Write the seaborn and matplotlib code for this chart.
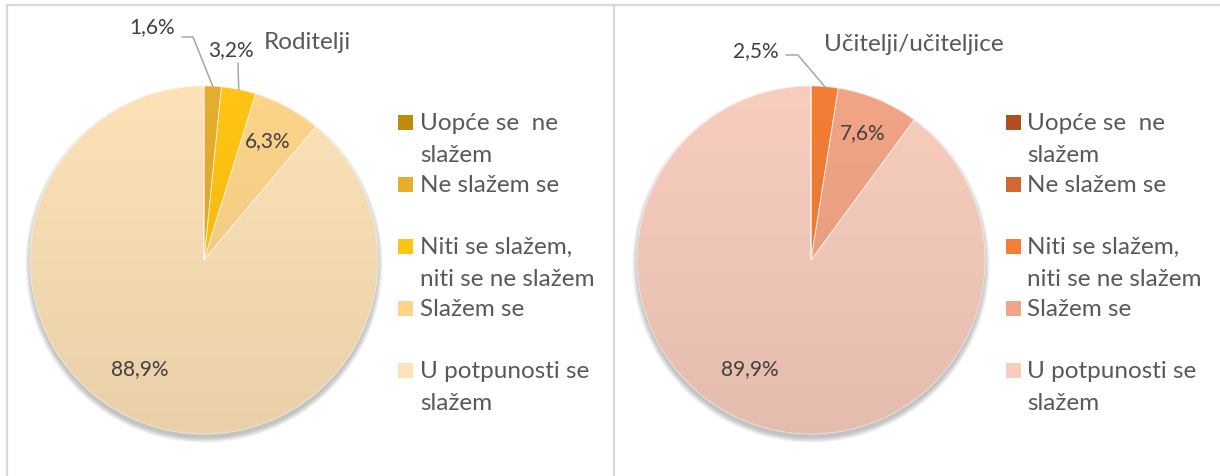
import matplotlib
matplotlib.use("Agg")
import matplotlib.pyplot as plt
import seaborn as sns
import numpy as np
from matplotlib.patches import Rectangle, Circle
from matplotlib.lines import Line2D
from matplotlib.colors import to_rgb

# ---------------- data ----------------
categories = ["Uopće se  ne\nslažem", "Ne slažem se",
              "Niti se slažem,\nniti se ne slažem", "Slažem se",
              "U potpunosti se\nslažem"]
titles = ["Roditelji", "Učitelji/učiteljice"]
roditelji_pct = [0.0, 1.6, 3.2, 6.3, 88.9]
ucitelji_pct = [0.0, 0.0, 2.5, 7.6, 89.9]
roditelji_colors = ["#C08A0C", "#E6AE2E", "#FFC414", "#FDD48A", "#FDE2B7"]
ucitelji_colors = ["#AE5020", "#D2672F", "#F37E35", "#F2A586", "#F8CDBE"]

# ---------------- style ----------------
sns.set_theme(style="white")
plt.rcParams["font.family"] = ["Lato", "DejaVu Sans"]

W, H = 1220, 476
TXT = "#595959"
LBL = "#404040"
GRID = "#D9D9D9"


def Y(y):
    return H - y


fig = plt.figure(figsize=(12.2, 4.76), dpi=100)
ax = fig.add_axes([0, 0, 1, 1])

panels = [
    dict(values=roditelji_pct, colors=roditelji_colors, title=titles[0],
         cx=204, cy=260, r=174, title_xy=(264, 49), sq_x=398, txt_x=420,
         labels={1: dict(xy=(152, 33), path=[(182, 37), (193, 37)]),
                 2: dict(xy=(231, 56), path=[(238, 63)]),
                 3: dict(xy=(268, 147)),
                 4: dict(xy=(140, 375))}),
    dict(values=ucitelji_pct, colors=ucitelji_colors, title=titles[1],
         cx=811, cy=260, r=174, title_xy=(824, 51), sq_x=1006, txt_x=1027,
         labels={2: dict(xy=(756, 57), path=[(786, 55), (798, 55)]),
                 3: dict(xy=(863, 139)),
                 4: dict(xy=(750, 375))}),
]

for p in panels:
    cx, cy, r = p["cx"], Y(p["cy"]), p["r"]
    # soft shadow
    for k in range(7):
        ax.add_patch(Circle((cx, cy - 4), r + k * 0.8, facecolor="black",
                            alpha=0.035, edgecolor="none", zorder=0.5))
    wedges, _ = ax.pie(p["values"], colors=p["colors"], startangle=90,
                       counterclock=False, center=(cx, cy), radius=r,
                       wedgeprops=dict(edgecolor=(1, 1, 1, 0.6), linewidth=0.6))
    for w, c in zip(wedges, p["colors"]):
        top = np.array(to_rgb(c))
        bot = top * 0.92
        grad = np.linspace(top, bot, 256)[:, None, :]
        im = ax.imshow(grad, extent=(cx - r, cx + r, cy - r, cy + r),
                       origin="upper", aspect="auto", zorder=1,
                       interpolation="bilinear")
        im.set_clip_path(w)
        w.set_facecolor("none")
        w.set_zorder(2)

    # data labels
    for idx, spec in p["labels"].items():
        v = p["values"][idx]
        txt = f"{v:.1f}".replace(".", ",") + "%"
        x, y = spec["xy"]
        ax.text(x, Y(y), txt, ha="center", va="baseline", fontsize=15,
                color=LBL, zorder=5)
        if "path" in spec:
            w = wedges[idx]
            mid = np.deg2rad((w.theta1 + w.theta2) / 2)
            ex, ey = cx + r * np.cos(mid), cy + r * np.sin(mid)
            xs = [pt[0] for pt in spec["path"]] + [ex]
            ys = [Y(pt[1]) for pt in spec["path"]] + [ey]
            ax.add_line(Line2D(xs, ys, color="#A6A6A6", lw=1.1, zorder=4))

    # title
    tx, ty = p["title_xy"]
    ax.text(tx, Y(ty), p["title"], ha="left", va="baseline", fontsize=17.5,
            color=TXT)

    # legend
    for i, (lab, col) in enumerate(zip(categories, p["colors"])):
        base = 130 + 62 * i
        ax.add_patch(Rectangle((p["sq_x"], Y(base)), 15, 15,
                               facecolor=col, edgecolor="none"))
        for j, line in enumerate(lab.split("\n")):
            ax.text(p["txt_x"], Y(base + 32 * j), line, ha="left",
                    va="baseline", fontsize=17.5, color=TXT)

# panel borders
ax.add_line(Line2D([7, W], [Y(5), Y(5)], color=GRID, lw=1.6))
ax.add_line(Line2D([7, 7], [Y(5), 0], color=GRID, lw=1.6))
ax.add_line(Line2D([614, 614], [Y(5), 0], color=GRID, lw=1.6))

ax.set_xlim(0, W)
ax.set_ylim(0, H)
ax.set_aspect("auto")
ax.axis("off")

fig.savefig("out.png", dpi=100, facecolor="white")
